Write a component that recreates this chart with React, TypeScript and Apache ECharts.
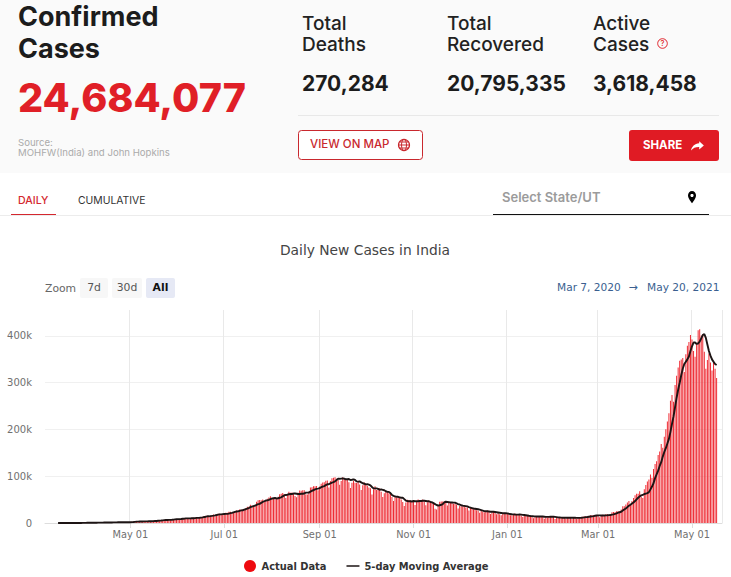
import React, { useEffect, useRef } from "react";
import * as echarts from "echarts";

const START_DATE = "2020-03-07";
const DAY_COUNT = 440;
const TICK_DATES = ["2020-05-01", "2020-07-01", "2020-09-01", "2020-11-01", "2021-01-01", "2021-03-01", "2021-05-01"];
const TICK_LABELS = ["May 01", "Jul 01", "Sep 01", "Nov 01", "Jan 01", "Mar 01", "May 01"];

const dailyCases: number[] = [
  3, 5, 4, 13, 6, 11, 9,
  20, 11, 9, 15, 28, 24, 63,
  75, 77, 64, 77, 87, 75, 153,
  130, 140, 100, 300, 400, 500, 600,
  600, 500, 700, 550, 550, 800, 850,
  900, 800, 800, 1200, 1000, 1000, 1000,
  1300, 1500, 1300, 1400, 1500, 1700, 1500,
  1800, 1500, 1500, 1800, 1700, 1800, 2000,
  2500, 2800, 3000, 3600, 2800, 3300, 3400,
  3300, 4200, 3600, 3500, 3700, 3900, 3900,
  4900, 5000, 4600, 5200, 5600, 6100, 6500,
  6600, 6800, 6500, 6400, 7200, 7400, 8000,
  8300, 8300, 8500, 8200, 9300, 9800, 9900,
  10400, 9800, 9900, 9900, 11100, 11000, 11400,
  11900, 10900, 10600, 12900, 13600, 14700, 15300,
  14800, 14000, 15600, 16900, 18200, 17300, 18400,
  19900, 19600, 18600, 18500, 19400, 21900, 21700,
  24000, 23900, 22300, 22900, 25500, 27000, 26500,
  28700, 28600, 28100, 29500, 32000, 35000, 34900,
  38900, 37100, 36800, 37400, 45600, 48900, 49000,
  48600, 50000, 46500, 49000, 52100, 54700, 57100,
  54700, 52800, 50600, 52000, 56300, 61500, 62500,
  64400, 62000, 53600, 61500, 67000, 64500, 65000,
  63500, 57900, 55000, 64500, 69700, 68900, 70000,
  69900, 61400, 60900, 67200, 75800, 76500, 78700,
  78500, 79000, 69900, 78300, 83900, 86400, 87000,
  90600, 90800, 75800, 89700, 95700, 96600, 97600,
  94400, 92000, 81900, 90100, 97900, 96400, 93300,
  92600, 86900, 75100, 86000, 90600, 86100, 85400,
  89000, 82200, 70600, 80500, 86800, 81500, 79500,
  75800, 74400, 61200, 72100, 78500, 70500, 73300,
  74400, 66700, 55700, 63500, 67700, 67700, 63400,
  62000, 55700, 46800, 55800, 54000, 55800, 53400,
  50100, 45100, 36500, 43900, 49900, 49000, 48200,
  46900, 45200, 38300, 46200, 50200, 47600, 45700,
  50300, 45900, 38000, 44300, 47900, 44800, 44900,
  41100, 30500, 29100, 38600, 45600, 45800, 45900,
  46200, 44000, 37400, 44300, 44600, 44500, 41300,
  41500, 38800, 31100, 36600, 35700, 35500, 36600,
  32900, 32900, 26500, 32000, 31500, 29400, 30000,
  27100, 27000, 22000, 26400, 24000, 22900, 25200,
  26600, 24300, 19500, 23900, 24700, 23100, 18700,
  22300, 18700, 16400, 20000, 21900, 20000, 19100,
  18200, 16500, 16400, 18000, 20300, 18100, 18100,
  18600, 16300, 12600, 15900, 15900, 15600, 15500,
  15100, 13800, 10000, 13800, 15200, 14500, 14300,
  14200, 13200, 9100, 12700, 11700, 14800, 13900,
  13000, 13000, 8600, 11000, 12900, 12400, 11700,
  11700, 12000, 9100, 11000, 12900, 12100, 9300,
  12200, 11400, 9100, 11600, 12000, 13000, 13200,
  13900, 14200, 10600, 13700, 16700, 16600, 16500,
  16400, 16500, 15500, 12300, 14900, 17400, 16800,
  18600, 18600, 15300, 17900, 22900, 23300, 22800,
  24900, 25300, 24500, 28900, 35800, 35900, 39700,
  43800, 46900, 40700, 47200, 53400, 59100, 62300,
  62700, 68000, 56100, 53400, 72300, 81400, 89000,
  92900, 103500, 96600, 115700, 126300, 131900, 145400,
  152800, 168900, 160700, 184400, 200700, 217300, 234700,
  261500, 273800, 259200, 295000, 314800, 332500, 346800,
  349700, 352900, 323100, 360900, 379300, 386900, 401900,
  392500, 368100, 355800, 382300, 412300, 414200, 401000,
  403600, 366500, 329900, 348400, 362700, 343100, 326100,
  345000, 330000, 310000,
];

const movingAverage: (number | null)[] = [
  null, null, null, null, null, null, null,
  null, 10, 15, 15, 20, 25, 40,
  50, 60, 65, 70, 80, 90, 100,
  120, 130, 135, 190, 260, 350, 460,
  520, 560, 590, 600, 620, 650, 700,
  750, 800, 850, 950, 1000, 1020, 1040,
  1100, 1200, 1270, 1350, 1400, 1480, 1500,
  1560, 1600, 1600, 1640, 1660, 1660, 1740,
  1960, 2180, 2460, 2860, 2980, 3100, 3180,
  3250, 3440, 3480, 3560, 3660, 3680, 3720,
  3960, 4240, 4420, 4780, 5060, 5300, 5640,
  6060, 6360, 6520, 6700, 6780, 7000, 7300,
  7700, 8000, 8300, 8350, 8650, 9000, 9240,
  9800, 9860, 9900, 10000, 10200, 10240, 10500,
  10900, 11060, 11200, 11460, 12000, 12760, 13480,
  14300, 14300, 14800, 15200, 15700, 16300, 17000,
  18000, 18400, 18500, 18900, 19300, 19500, 19500,
  20000, 21000, 21700, 22900, 23900, 24700, 24900,
  26000, 27000, 27200, 28500, 29400, 31000, 32000,
  34000, 35000, 36000, 37000, 38900, 40500, 41000,
  43000, 45000, 46500, 48000, 48500, 49500, 51000,
  52000, 53000, 53500, 52500, 53000, 54000, 55000,
  57000, 59000, 60000, 60500, 61500, 62000, 62000,
  63000, 63000, 62500, 62000, 62000, 62500, 62500,
  63000, 65000, 65000, 65000, 67000, 69000, 70000,
  72000, 73000, 73500, 74500, 76500, 78000, 79000,
  81000, 83000, 83000, 85000, 86500, 87500, 89000,
  92000, 94500, 94500, 95000, 95500, 95000, 93500,
  93500, 94000, 92000, 92500, 93500, 92000, 89000,
  88500, 89000, 87000, 85000, 84000, 82500, 83000,
  82000, 80500, 77000, 74000, 74000, 74000, 73000,
  71000, 72000, 71000, 70000, 68000, 66500, 66500,
  64000, 60000, 58000, 57000, 56000, 56000, 55000,
  54000, 54000, 51000, 48000, 47000, 46500, 46500,
  46000, 47000, 46500, 46500, 46500, 47000, 47000,
  47500, 47500, 47000, 46500, 46500, 45000, 44500,
  42500, 40500, 38500, 37500, 38000, 39000, 40500,
  44000, 45500, 45000, 44500, 44000, 44000, 43500,
  43500, 42000, 40500, 39500, 38000, 37000, 36500,
  36000, 35500, 34000, 33000, 32000, 31000, 30500,
  30000, 29500, 28500, 27500, 26500, 25500, 25000,
  25000, 24500, 24000, 24000, 24000, 23500, 23000,
  22500, 22000, 21500, 21000, 21000, 20800, 20500,
  19800, 19200, 18800, 18500, 18200, 18000, 18000,
  18400, 18000, 17500, 17000, 16500, 16000, 15400,
  15000, 14700, 14400, 14200, 14000, 14000, 14000,
  14000, 13800, 13500, 13200, 13000, 13200, 13400,
  13500, 13500, 13000, 12500, 12000, 11800, 11500,
  11300, 11300, 11300, 11300, 11200, 11300, 11200,
  11200, 11200, 11000, 11000, 11000, 11200, 11500,
  12000, 12500, 12800, 13300, 13800, 14300, 14800,
  15500, 16000, 16300, 16300, 16000, 16000, 16000,
  16300, 16500, 16800, 17000, 17800, 18500, 19500,
  20500, 22000, 23000, 24000, 26500, 29000, 31000,
  34000, 37000, 39000, 41500, 44000, 47000, 50500,
  54000, 57000, 59000, 60000, 62000, 63000, 64000,
  66000, 72000, 78000, 85000, 96000, 104000, 112000,
  122000, 130000, 142000, 152000, 160000, 170000, 180000,
  195000, 212000, 228000, 248000, 268000, 285000, 300000,
  316000, 330000, 340000, 345000, 350000, 356000, 368000,
  378000, 386000, 386000, 383000, 384000, 388000, 395000,
  402000, 404000, 396000, 382000, 368000, 358000, 350000,
  345000, 340000, 338000,
];

const HEADLINE_CONFIRMED = "24,684,077";
const STAT_LABELS = [["Total", "Deaths"], ["Total", "Recovered"], ["Active", "Cases"]];
const STAT_VALUES = ["270,284", "20,795,335", "3,618,458"];

const dateCategories: string[] = [];
{
  const d = new Date(START_DATE + "T00:00:00Z");
  for (let i = 0; i < DAY_COUNT; i++) {
    dateCategories.push(d.toISOString().slice(0, 10));
    d.setUTCDate(d.getUTCDate() + 1);
  }
}

echarts.graphic.registerShape("pinIcon", echarts.graphic.extendPath("M12 1C7.6 1 4 4.6 4 9c0 5.6 8 14 8 14s8-8.4 8-14c0-4.4-3.6-8-8-8z", {}));
echarts.graphic.registerShape("shareIcon", echarts.graphic.extendPath("M15 4l8 7-8 7v-4.2C9 13.6 4.5 15.5 1 20c1-6.5 6-12 14-12.5z", {}));

const HEAD = "Inter, 'Noto Sans', sans-serif";
const CHART = "'DejaVu Sans', Verdana, sans-serif";
const RED = "#e01f27";

const tx = (text: string, x: number, y: number, fontSize: number, fontWeight: any, fill: string, fontFamily = HEAD, align = "left") => ({
  type: "text",
  silent: true,
  style: { text, x, y, fontSize, fontWeight, fill, fontFamily, textAlign: align, textVerticalAlign: "middle" },
});
const rect = (x: number, y: number, w: number, h: number, fill: string, stroke?: string, r = 0) => ({
  type: "rect",
  silent: true,
  shape: { x, y, width: w, height: h, r },
  style: { fill, stroke: stroke ?? "none", lineWidth: stroke ? 1 : 0 },
});
const ln = (x1: number, y1: number, x2: number, y2: number, stroke: string, lineWidth = 1) => ({
  type: "line",
  silent: true,
  shape: { x1, y1, x2, y2 },
  style: { stroke, lineWidth },
});

const STAT_X = [302, 447, 593];

const graphics: any[] = [
  rect(0, 0, 731, 173, "#fafafa"),
  tx("Confirmed", 18, 16, 27, 700, "#1c1c1c"),
  tx("Cases", 18, 48, 27, 700, "#1c1c1c"),
  tx(HEADLINE_CONFIRMED, 18, 98, 39.5, 800, RED),
  tx("Source:", 18, 142, 9.6, 400, "#aaaaaa"),
  tx("MOHFW(India) and John Hopkins", 18, 152, 9.6, 400, "#aaaaaa"),
  ...STAT_X.flatMap((x, i) => [
    tx(STAT_LABELS[i][0], x, 23, 19, 500, "#222222"),
    tx(STAT_LABELS[i][1], x, 44, 19, 500, "#222222"),
    tx(STAT_VALUES[i], x, 83, 21, 700, "#1c1c1c"),
  ]),
  { type: "circle", silent: true, shape: { cx: 662.5, cy: 43.5, r: 4.8 }, style: { fill: "none", stroke: RED, lineWidth: 1 } },
  tx("?", 662.5, 43.5, 7.5, 500, RED, HEAD, "center"),
  ln(298, 115.5, 719, 115.5, "#e8e8e8"),
  rect(298.5, 130.5, 124, 29, "#ffffff", "#c9282e", 3),
  tx("VIEW ON MAP", 310, 144, 11.5, 500, "#c9282e"),
  { type: "circle", silent: true, shape: { cx: 404, cy: 145, r: 5.5 }, style: { fill: "none", stroke: "#c9282e", lineWidth: 1.2 } },
  { type: "ellipse", silent: true, shape: { cx: 404, cy: 145, rx: 2.5, ry: 5.5 }, style: { fill: "none", stroke: "#c9282e", lineWidth: 1 } },
  ln(398.5, 145, 409.5, 145, "#c9282e"),
  ln(399.5, 142, 408.5, 142, "#c9282e"),
  ln(399.5, 148, 408.5, 148, "#c9282e"),
  rect(629, 130, 90, 31, "#e01b24", undefined, 3),
  tx("SHARE", 643, 145, 11.5, 700, "#ffffff"),
  { type: "shareIcon", silent: true, x: 690.5, y: 139, scaleX: 0.58, scaleY: 0.58, style: { fill: "#ffffff" } },
  tx("DAILY", 18, 200, 10.6, 500, "#d4272e"),
  tx("CUMULATIVE", 78, 200, 10.4, 400, "#333333"),
  ln(0, 215.5, 731, 215.5, "#ececec"),
  ln(11, 214.5, 56, 214.5, "#d4272e"),
  tx("Select State/UT", 502, 197, 13, 600, "#9b9b9b"),
  ln(493, 214.5, 709, 214.5, "#111111"),
  { type: "pinIcon", silent: true, x: 686, y: 190.5, scaleX: 0.5, scaleY: 0.55, style: { fill: "#000000" } },
  { type: "circle", silent: true, shape: { cx: 692, cy: 195.5, r: 1.6 }, style: { fill: "#ffffff" } },
  tx("Zoom", 45, 288, 10.8, 400, "#666666", CHART),
  rect(80, 278, 28, 20, "#f7f7f7", undefined, 2),
  tx("7d", 94, 287, 10.8, 400, "#555555", CHART, "center"),
  rect(112, 278, 30, 20, "#f7f7f7", undefined, 2),
  tx("30d", 127, 287, 10.8, 400, "#555555", CHART, "center"),
  rect(146, 278, 29, 20, "#e6e9f5", undefined, 2),
  tx("All", 160.5, 287, 10.8, 700, "#111111", CHART, "center"),
  tx("Mar 7, 2020", 557, 287, 10.6, 400, "#3a5f90", CHART),
  tx("→", 633, 287, 11, 400, "#3a5f90", CHART, "center"),
  tx("May 20, 2021", 647, 287, 10.6, 400, "#3a5f90", CHART),
];

export default function App() {
  const ref = useRef<HTMLDivElement>(null);
  useEffect(() => {
    document.body.style.margin = "0";
    const chart = echarts.init(ref.current!, undefined, { renderer: "svg" });
    const tickSet = (i: number, v: string) => TICK_DATES.includes(v);
    chart.setOption({
      animation: false,
      backgroundColor: "#ffffff",
      title: {
        text: "Daily New Cases in India",
        left: 280,
        top: 243,
        itemGap: 0,
        padding: 0,
        textStyle: { fontFamily: CHART, fontSize: 13.8, fontWeight: 400, color: "#444444" },
      },
      graphic: { elements: graphics },
      grid: { left: 45, top: 310, width: 677, height: 213, containLabel: false },
      legend: {
        left: 244,
        top: 560,
        padding: 0,
        itemGap: 20,
        itemWidth: 13,
        itemHeight: 12,
        selectedMode: false,
        textStyle: { fontFamily: CHART, fontSize: 9.9, fontWeight: 600, color: "#333333" },
        data: [
          { name: "Actual Data", icon: "circle", itemStyle: { color: "#ee0a0f" } },
          {
            name: "5-day Moving Average",
            icon: "path://M0,0H0.01V0.01H0Z M0,5.2H13V6.8H0Z M13,12H13.01V12.01H13Z",
            itemStyle: { color: "#1d1414" },
          },
        ],
      },
      xAxis: {
        type: "category",
        data: dateCategories,
        boundaryGap: true,
        axisLine: { show: true, lineStyle: { color: "#dddddd" } },
        axisTick: { show: true, alignWithLabel: true, interval: tickSet, length: 5, lineStyle: { color: "#dddddd" } },
        splitLine: { show: true, interval: tickSet, lineStyle: { color: "#e9e9e9" } },
        axisLabel: {
          interval: tickSet,
          margin: 6,
          fontFamily: CHART,
          fontSize: 9.8,
          color: "#707070",
          formatter: (v: string) => TICK_LABELS[TICK_DATES.indexOf(v)] ?? "",
        },
      },
      yAxis: {
        type: "value",
        min: 0,
        max: 455600,
        interval: 100000,
        axisLine: { show: false },
        axisTick: { show: false },
        splitLine: { show: true, showMaxLine: false, lineStyle: { color: "#f0f0f0" } },
        axisLabel: {
          showMaxLabel: false,
          margin: 13,
          fontFamily: CHART,
          fontSize: 10,
          color: "#707070",
          formatter: (v: number) => (v === 0 ? "0" : v / 1000 + "k"),
        },
      },
      series: [
        {
          name: "Actual Data",
          type: "bar",
          data: dailyCases,
          barWidth: 1,
          itemStyle: { color: "#ee2b33" },
        },
        {
          name: "5-day Moving Average",
          type: "line",
          data: movingAverage,
          showSymbol: false,
          symbol: "none",
          connectNulls: false,
          lineStyle: { color: "#1d1414", width: 1.9 },
          itemStyle: { color: "#1d1414" },
        },
      ],
    });
    return () => chart.dispose();
  }, []);
  return <div ref={ref} style={{ position: "absolute", left: 0, top: 0, width: 731, height: 577, overflow: "hidden" }} />;
}
